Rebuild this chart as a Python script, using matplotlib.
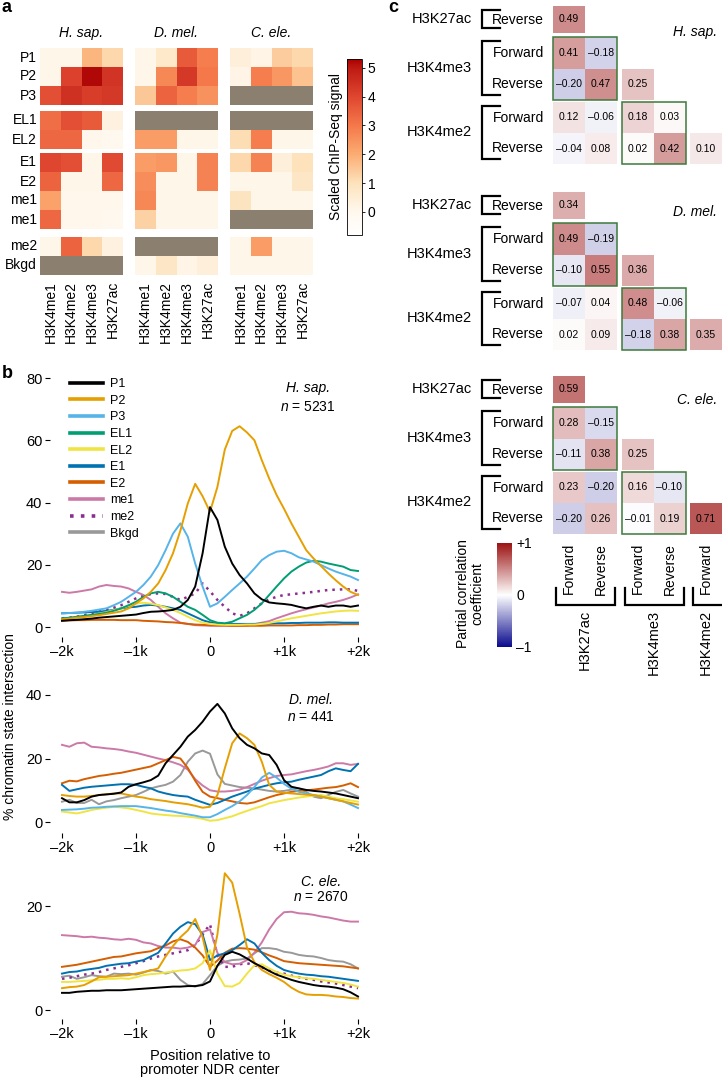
import numpy as np
import matplotlib
matplotlib.use('Agg')
import matplotlib.pyplot as plt
from matplotlib.colors import LinearSegmentedColormap, Normalize
from matplotlib.cm import ScalarMappable
from matplotlib.patches import Rectangle

plt.rcParams['font.family'] = ['Liberation Sans', 'DejaVu Sans']
plt.rcParams['mathtext.fontset'] = 'custom'
plt.rcParams['mathtext.it'] = 'Liberation Sans:italic'
plt.rcParams['mathtext.rm'] = 'Liberation Sans'

W, H = 722, 1080
nan = np.nan

# ---------------- panel a: scaled ChIP-seq signal ----------------
species = ['H. sap.', 'D. mel.', 'C. ele.']
marks = ['H3K4me1', 'H3K4me2', 'H3K4me3', 'H3K27ac']
state_rows = ['P1', 'P2', 'P3', 'EL1', 'EL2', 'E1', 'E2', 'me1', 'me1', 'me2', 'Bkgd']

signal_hsap = [[0.1, 0.1, 1.8, 1.2],
               [0.1, 4.1, 5.2, 4.4],
               [3.8, 4.5, 4.2, 4.3],
               [3.2, 3.8, 3.6, 0.3],
               [3.3, 3.3, 0.05, 0.0],
               [4.0, 3.8, 0.1, 3.9],
               [3.4, 0.1, 0.1, 3.3],
               [2.2, 0.05, 0.05, 0.05],
               [3.3, 0.05, 0.05, 0.0],
               [0.1, 3.4, 1.2, 0.3],
               [nan, nan, nan, nan]]
signal_dmel = [[0.1, 0.7, 3.6, 2.9],
               [0.1, 2.7, 4.3, 3.0],
               [1.5, 3.4, 2.9, 2.5],
               [nan, nan, nan, nan],
               [2.3, 2.3, 0.1, 0.1],
               [2.3, 2.4, 0.1, 2.8],
               [2.6, 0.1, 0.1, 2.8],
               [2.7, 0.1, 0.1, 0.1],
               [1.3, 0.1, 0.1, 0.1],
               [nan, nan, nan, nan],
               [0.1, 0.8, 0.2, 0.4]]
signal_cele = [[0.4, 0.2, 1.4, 1.2],
               [0.2, 2.9, 2.4, 1.6],
               [nan, nan, nan, nan],
               [nan, nan, nan, nan],
               [1.1, 2.9, 0.1, 0.1],
               [1.2, 2.8, 0.4, 1.0],
               [0.1, 0.1, 0.1, 0.8],
               [0.9, 0.1, 0.1, 0.1],
               [nan, nan, nan, nan],
               [0.1, 2.3, 0.1, 0.1],
               [0.1, 0.1, 0.1, 0.1]]

# ---------------- panel b: state profiles around NDR ----------------
pos = list(range(-2000, 2001, 100))
states = ['P1', 'P2', 'P3', 'EL1', 'EL2', 'E1', 'E2', 'me1', 'me2', 'Bkgd']
n_genes = [5231, 441, 2670]

hs_P1 = [2.0, 2.2, 2.3, 2.5, 2.7, 3.0, 3.2, 3.4, 3.6, 3.8,
         4.0, 4.5, 4.9, 5.0, 5.2, 5.5, 6.5, 8.7, 13.0, 23.7,
         38.5, 34.4, 25.8, 20.4, 16.7, 14.0, 10.8, 8.9, 7.9, 7.6,
         7.4, 7.1, 6.5, 6.0, 6.5, 6.9, 6.5, 6.9, 6.9, 6.5, 6.9]
hs_P2 = [2.5, 2.7, 3.0, 3.2, 3.5, 3.8, 4.2, 4.6, 5.0, 6.0,
         7.6, 9.2, 11.3, 14.0, 18.3, 23.7, 31.0, 39.7, 46.0, 42.0,
         37.0, 45.0, 57.0, 63.0, 64.5, 62.5, 60.0, 53.6, 47.7, 42.4,
         38.0, 33.3, 29.0, 24.7, 22.0, 19.6, 17.2, 15.0, 13.0, 11.3, 10.3]
hs_P3 = [4.4, 4.5, 4.6, 4.9, 5.2, 5.6, 6.0, 7.0, 8.1, 9.7,
         11.3, 13.5, 16.2, 19.9, 24.7, 30.0, 33.3, 29.0, 20.4, 13.0,
         6.5, 7.6, 9.7, 11.9, 14.0, 16.2, 18.8, 21.5, 23.1, 24.2,
         24.5, 23.7, 22.4, 21.7, 21.0, 19.9, 18.8, 17.8, 17.0, 16.2, 15.1]
hs_EL1 = [2.8, 3.0, 3.3, 3.6, 3.9, 4.2, 4.6, 5.2, 6.0, 7.0,
          8.1, 9.7, 10.8, 11.3, 10.8, 9.7, 8.1, 6.5, 5.5, 3.9,
          2.2, 1.4, 1.2, 1.7, 2.8, 3.9, 5.5, 7.6, 10.3, 13.0,
          15.6, 17.8, 19.4, 20.7, 21.3, 21.0, 20.4, 19.9, 19.4, 18.3, 18.0]
hs_EL2 = [2.5, 2.7, 3.0, 3.4, 3.8, 4.3, 4.8, 5.4, 6.0, 6.8,
          7.5, 7.8, 7.5, 7.0, 6.3, 5.5, 4.5, 3.3, 2.2, 1.4,
          1.0, 0.8, 0.7, 0.7, 0.7, 0.8, 0.8, 1.0, 1.3, 1.8,
          2.3, 2.8, 3.2, 3.6, 4.0, 4.4, 4.7, 5.0, 5.2, 5.3, 5.2]
hs_E1 = [4.4, 4.5, 4.6, 4.7, 4.8, 4.9, 5.2, 5.5, 6.0, 6.3,
         6.5, 6.9, 7.1, 6.9, 6.5, 6.0, 5.5, 4.4, 3.3, 2.2,
         1.5, 1.2, 1.0, 1.0, 1.0, 1.0, 1.0, 1.1, 1.1, 1.2,
         1.2, 1.3, 1.3, 1.4, 1.4, 1.4, 1.5, 1.5, 1.4, 1.4, 1.4]
hs_E2 = [2.0, 2.1, 2.2, 2.2, 2.3, 2.3, 2.3, 2.3, 2.2, 2.2,
         2.2, 2.0, 1.9, 1.8, 1.6, 1.5, 1.3, 1.0, 0.8, 0.7,
         0.6, 0.5, 0.5, 0.4, 0.4, 0.4, 0.4, 0.4, 0.5, 0.5,
         0.5, 0.5, 0.6, 0.6, 0.7, 0.7, 0.8, 0.8, 0.9, 0.9, 0.9]
hs_me1 = [11.3, 11.0, 11.3, 11.7, 12.1, 13.0, 13.5, 13.2, 13.0, 12.4,
          11.3, 10.3, 8.7, 6.5, 4.4, 2.8, 1.4, 1.0, 0.6, 0.5,
          0.4, 0.4, 0.4, 0.4, 0.4, 0.5, 0.9, 1.4, 1.9, 2.8,
          3.6, 4.4, 5.1, 5.7, 6.3, 6.9, 7.6, 8.1, 8.7, 9.5, 10.5]
hs_me2 = [2.8, 3.0, 3.3, 3.8, 4.4, 5.0, 5.5, 6.2, 7.0, 8.1,
          9.2, 10.0, 10.6, 10.8, 10.6, 9.7, 8.7, 9.7, 10.8, 14.0,
          11.5, 8.7, 6.5, 4.4, 3.6, 4.4, 6.0, 7.6, 8.9, 9.7,
          10.3, 10.5, 10.8, 11.0, 11.3, 11.6, 11.9, 12.0, 12.1, 12.1, 11.6]

dm_P1 = [7.5, 6.2, 6.2, 6.9, 8.0, 8.5, 8.7, 8.9, 9.3, 11.1,
         11.9, 12.5, 13.2, 14.6, 18.5, 21.1, 23.7, 26.9, 29.0, 31.6,
         34.8, 37.2, 34.2, 29.5, 26.4, 24.3, 23.2, 21.6, 21.1, 18.0,
         13.2, 11.1, 10.6, 10.1, 9.8, 9.6, 9.3, 9.0, 8.5, 8.0, 7.5]
dm_P2 = [8.5, 8.2, 8.0, 8.0, 8.2, 8.5, 8.7, 9.0, 9.0, 8.5,
         8.0, 7.7, 7.2, 6.9, 6.6, 6.2, 5.9, 5.6, 5.1, 4.5,
         4.8, 8.5, 16.9, 24.8, 27.9, 26.4, 24.3, 19.0, 11.7, 9.6,
         9.2, 9.0, 8.8, 8.6, 8.5, 8.0, 7.5, 7.0, 6.5, 6.0, 5.5]
dm_P3 = [3.8, 3.9, 4.0, 4.2, 4.5, 4.6, 4.8, 4.9, 5.0, 5.0,
         5.0, 4.7, 4.4, 4.0, 3.6, 3.3, 2.8, 2.4, 2.0, 1.5,
         1.5, 2.5, 3.8, 5.0, 6.5, 8.5, 11.0, 14.0, 15.5, 14.0,
         12.0, 10.5, 9.5, 9.0, 8.5, 8.0, 7.5, 7.0, 6.5, 5.5, 4.4]
dm_EL2 = [3.3, 3.0, 2.7, 3.2, 3.8, 4.2, 4.5, 4.8, 4.6, 4.3,
          3.8, 3.3, 2.7, 2.4, 2.2, 2.0, 1.9, 1.7, 1.4, 1.0,
          0.4, 0.6, 1.2, 1.8, 2.7, 3.5, 4.3, 5.0, 5.9, 6.4,
          6.9, 7.3, 7.7, 8.0, 8.3, 8.5, 8.0, 7.5, 7.2, 6.8, 6.4]
dm_E1 = [11.7, 9.8, 10.3, 10.8, 11.1, 11.3, 11.5, 11.7, 11.9, 11.9,
         11.7, 11.1, 10.6, 9.6, 9.0, 8.5, 8.2, 8.0, 7.0, 6.2,
         5.4, 6.0, 7.0, 8.0, 8.8, 9.6, 10.5, 11.1, 11.7, 12.2,
         12.5, 12.7, 13.3, 13.8, 14.3, 14.8, 16.0, 16.9, 16.4, 16.0, 18.3]
dm_E2 = [12.2, 13.0, 12.8, 13.5, 14.0, 14.5, 14.8, 15.2, 15.5, 16.0,
         16.5, 17.0, 17.5, 18.5, 19.5, 20.5, 20.0, 17.0, 13.0, 9.5,
         8.0, 7.5, 7.0, 6.5, 6.0, 5.8, 6.2, 7.0, 7.8, 8.5,
         9.0, 9.5, 9.8, 10.0, 10.2, 10.5, 10.8, 11.0, 11.5, 12.2, 11.0]
dm_me1 = [24.3, 23.7, 24.8, 25.0, 23.7, 23.5, 23.2, 23.0, 22.7, 22.2,
          21.8, 21.2, 20.6, 20.0, 19.5, 18.8, 18.0, 16.5, 13.5, 11.5,
          10.0, 9.6, 9.6, 9.8, 10.2, 11.0, 12.0, 13.0, 13.8, 14.5,
          14.8, 15.0, 15.5, 16.0, 16.4, 16.9, 17.5, 18.5, 18.5, 18.0, 18.3]
dm_Bkgd = [6.4, 7.0, 6.0, 6.0, 7.0, 5.6, 6.5, 6.9, 7.5, 8.0,
           8.5, 9.5, 10.6, 11.2, 11.7, 12.7, 14.8, 19.0, 21.6, 22.5,
           21.5, 15.0, 12.0, 11.5, 11.0, 10.8, 10.6, 10.2, 9.8, 9.6,
           9.8, 10.2, 10.6, 9.5, 8.0, 7.5, 8.5, 9.5, 10.1, 9.0, 8.0]

ce_P1 = [3.3, 3.3, 3.5, 3.6, 3.7, 3.7, 3.8, 3.8, 3.8, 3.9,
         4.0, 4.1, 4.2, 4.3, 4.4, 4.5, 4.5, 4.6, 4.6, 4.8,
         5.5, 8.5, 10.6, 11.2, 10.7, 9.9, 9.0, 8.3, 7.5, 6.8,
         6.3, 5.8, 5.4, 5.1, 4.8, 4.6, 4.5, 4.3, 4.0, 3.4, 2.6]
ce_P2 = [4.2, 4.4, 4.5, 4.8, 5.5, 6.3, 6.4, 6.5, 6.6, 6.7,
         7.0, 7.3, 7.6, 8.0, 10.3, 12.3, 14.0, 15.3, 17.5, 14.0,
         7.7, 14.5, 26.3, 24.5, 18.5, 12.0, 9.2, 7.7, 6.9, 6.2,
         5.4, 4.3, 3.5, 3.0, 2.9, 2.9, 2.8, 2.6, 2.5, 2.3, 2.2]
ce_EL2 = [5.4, 5.4, 5.5, 5.6, 5.7, 5.8, 6.0, 6.0, 6.1, 6.0,
          6.3, 6.7, 6.9, 7.0, 7.2, 7.4, 7.6, 7.7, 8.0, 9.0,
          11.5, 7.0, 4.6, 4.5, 5.2, 7.0, 8.6, 8.8, 8.0, 7.3,
          6.8, 6.5, 6.3, 6.1, 6.0, 5.8, 5.6, 5.4, 5.2, 4.9, 4.5]
ce_E1 = [7.0, 7.3, 7.4, 7.7, 7.9, 8.1, 8.5, 8.7, 8.9, 9.0,
         9.3, 9.6, 10.3, 11.0, 12.8, 14.7, 16.0, 16.9, 16.5, 14.5,
         9.6, 10.5, 10.9, 11.5, 12.5, 13.6, 12.8, 11.0, 9.6, 8.5,
         7.7, 7.3, 7.0, 6.8, 6.7, 6.5, 6.4, 6.2, 6.0, 5.8, 5.6]
ce_E2 = [8.3, 8.5, 8.7, 9.0, 9.3, 9.6, 9.9, 10.2, 10.3, 10.6,
         10.9, 11.1, 11.3, 11.9, 12.4, 13.2, 13.6, 13.1, 12.0, 10.5,
         8.3, 9.5, 11.0, 11.8, 11.9, 11.8, 11.6, 11.1, 10.5, 10.0,
         9.4, 9.2, 9.0, 8.9, 8.8, 8.7, 8.6, 8.5, 8.4, 8.2, 8.0]
ce_me1 = [14.4, 14.3, 14.2, 14.0, 14.1, 13.9, 13.8, 13.6, 13.5, 13.7,
          13.5, 13.0, 12.8, 12.3, 12.0, 12.0, 11.8, 12.0, 12.5, 15.0,
          15.5, 11.0, 9.2, 8.8, 8.9, 9.6, 11.0, 13.0, 15.5, 17.5,
          18.8, 18.9, 18.6, 18.5, 18.3, 18.0, 17.8, 17.5, 17.2, 17.0, 17.0]
ce_me2 = [6.0, 6.2, 6.5, 6.8, 7.0, 7.3, 7.7, 8.0, 8.3, 8.6,
          9.0, 9.4, 9.9, 10.3, 10.6, 10.9, 11.2, 11.5, 12.5, 14.5,
          16.5, 10.5, 8.3, 8.3, 8.8, 9.0, 8.6, 8.2, 7.7, 7.2,
          7.0, 6.6, 6.3, 6.0, 5.8, 5.5, 5.3, 5.1, 4.8, 4.5, 4.2]
ce_Bkgd = [6.4, 6.6, 6.0, 6.3, 6.7, 6.5, 6.4, 7.0, 6.9, 7.0,
           6.8, 7.2, 7.7, 7.5, 7.0, 7.4, 5.8, 4.8, 4.5, 5.0,
           6.7, 8.5, 9.3, 9.6, 9.7, 9.9, 10.9, 11.9, 11.9, 11.7,
           11.2, 11.0, 10.6, 10.4, 10.3, 10.0, 9.6, 9.4, 9.3, 8.8, 8.0]

# ---------------- panel c: partial correlations ----------------
pcorr_hsap = [[0.49],
              [0.41, -0.18],
              [-0.20, 0.47, 0.25],
              [0.12, -0.06, 0.18, 0.03],
              [-0.04, 0.08, 0.02, 0.42, 0.10]]
pcorr_dmel = [[0.34],
              [0.49, -0.19],
              [-0.10, 0.55, 0.36],
              [-0.07, 0.04, 0.48, -0.06],
              [0.02, 0.09, -0.18, 0.38, 0.35]]
pcorr_cele = [[0.59],
              [0.28, -0.15],
              [-0.11, 0.38, 0.25],
              [0.23, -0.20, 0.16, -0.10],
              [-0.20, 0.26, -0.01, 0.19, 0.71]]
pc_rows = ['Reverse', 'Forward', 'Reverse', 'Forward', 'Reverse']
pc_cols = ['Forward', 'Reverse', 'Forward', 'Reverse', 'Forward']

signal = [signal_hsap, signal_dmel, signal_cele]
profiles = [
    {'P1': hs_P1, 'P2': hs_P2, 'P3': hs_P3, 'EL1': hs_EL1, 'EL2': hs_EL2,
     'E1': hs_E1, 'E2': hs_E2, 'me1': hs_me1, 'me2': hs_me2},
    {'P1': dm_P1, 'P2': dm_P2, 'P3': dm_P3, 'EL2': dm_EL2, 'E1': dm_E1,
     'E2': dm_E2, 'me1': dm_me1, 'Bkgd': dm_Bkgd},
    {'P1': ce_P1, 'P2': ce_P2, 'EL2': ce_EL2, 'E1': ce_E1, 'E2': ce_E2,
     'me1': ce_me1, 'me2': ce_me2, 'Bkgd': ce_Bkgd},
]
pcorr = [pcorr_hsap, pcorr_dmel, pcorr_cele]

state_colors = {'P1': 'black', 'P2': '#E69F00', 'P3': '#56B4E9', 'EL1': '#009E73',
                'EL2': '#F0E442', 'E1': '#0072B2', 'E2': '#D55E00', 'me1': '#CC79A7',
                'me2': '#8B2F8F', 'Bkgd': '#999999'}


def rect(x0, y0, x1, y1):
    return [x0 / W, 1 - y1 / H, (x1 - x0) / W, (y1 - y0) / H]


fig = plt.figure(figsize=(W / 100, H / 100), dpi=100)

# canvas in pixel units for the heatmaps and labels
cv = fig.add_axes([0, 0, 1, 1])
cv.set_xlim(0, W)
cv.set_ylim(H, 0)
cv.axis('off')

# ---- a ----
vmin, vmax = -0.8, 5.3
sig_anchor = [(-0.8, '#ffffff'), (0, '#fff8ee'), (1, '#fde2bb'), (2, '#fbac72'),
              (3, '#f4784a'), (4, '#df4630'), (5, '#be1a12'), (5.3, '#a80000')]
sig_cmap = LinearSegmentedColormap.from_list(
    'sig', [((v - vmin) / (vmax - vmin), c) for v, c in sig_anchor])
sig_cmap.set_bad('#8b7f70')
sig_norm = Normalize(vmin, vmax)

block_x = [40, 135, 230]
cw, rh = 20.75, 19
group_top = [48, 111, 153, 237]
group_rows = [3, 2, 4, 2]
for b in range(3):
    vals = np.array(signal[b], dtype=float)
    xe = block_x[b] + cw * np.arange(5)
    r = 0
    for g, n in enumerate(group_rows):
        ye = group_top[g] + rh * np.arange(n + 1)
        cv.pcolormesh(xe, ye, np.ma.masked_invalid(vals[r:r + n]),
                      cmap=sig_cmap, norm=sig_norm)
        r += n
    for j, m in enumerate(marks):
        cv.text(block_x[b] + cw * (j + 0.5), 281, m, rotation=90,
                ha='center', va='top', fontsize=10)
    cv.text(block_x[b] + 2 * cw, 33, species[b], style='italic',
            ha='center', va='center', fontsize=10)

row_y = []
for g, n in enumerate(group_rows):
    for i in range(n):
        row_y.append(group_top[g] + rh * (i + 0.5))
for lab, y in zip(state_rows, row_y):
    cv.text(37, y, lab, ha='right', va='center', fontsize=10)

cax = fig.add_axes(rect(347, 59, 362, 235))
cb = fig.colorbar(ScalarMappable(norm=sig_norm, cmap=sig_cmap), cax=cax, ticks=range(6))
cb.outline.set_linewidth(0.6)
cax.tick_params(length=2, width=0.6, labelsize=10, pad=2)
cv.text(336, 147, 'Scaled ChIP-Seq signal', rotation=90,
        ha='center', va='center', fontsize=10)

# ---- b ----
b_layout = [(378, 632, (-1.6, 80), [0, 20, 40, 60, 80], 5),
            (695, 827, (-1.57, 40), [0, 20, 40], 6),
            (867, 1015, (-0.96, 27.5), [0, 20], 4)]
axes_b = []
for k, (top, bot, ylim, yt, out) in enumerate(b_layout):
    ax = fig.add_axes(rect(62, top, 358, bot))
    ax.patch.set_visible(False)
    for s in ax.spines.values():
        s.set_visible(False)
    ax.spines['left'].set_position(('outward', 8.6))
    ax.spines['bottom'].set_position(('outward', out * 0.72))
    ax.set_xlim(-2000, 2000)
    ax.set_ylim(*ylim)
    ax.set_yticks(yt)
    ax.set_xticks([-2000, -1000, 0, 1000, 2000])
    ax.set_xticklabels(['\u20132k', '\u20131k', '0', '+1k', '+2k'])
    ax.tick_params(length=3.6, width=0.8, labelsize=10.5, pad=2)
    handles = []
    for i, st in enumerate(states):
        ls = (0, (1.0, 2.0)) if st == 'me2' else '-'
        lw = 1.8 if st == 'me2' else 1.4
        if st in profiles[k]:
            h, = ax.plot(pos, profiles[k][st], color=state_colors[st], lw=lw,
                         ls=ls, zorder=20 - i, clip_on=False)
        else:
            h, = ax.plot([], [], color=state_colors[st], lw=lw, ls=ls)
        handles.append(h)
    axes_b.append(ax)

leg = axes_b[0].legend(handles, states, loc='upper left',
                       bbox_to_anchor=(70 / W, 1 - 378 / H), bbox_transform=fig.transFigure,
                       frameon=False, fontsize=9, handlelength=2.64, handletextpad=0.56,
                       labelspacing=0.37, borderpad=0, borderaxespad=0)
for ln in leg.get_lines():
    ln.set_linewidth(2.6)

sp_pos = [(308, 388, 407), (311, 700, 717), (321, 882, 897)]
for (x, y1, y2), name, n in zip(sp_pos, species, n_genes):
    cv.text(x, y1, name, style='italic', ha='center', va='center', fontsize=10)
    cv.text(x, y2, '$n$ = %d' % n, ha='center', va='center', fontsize=10)

cv.text(10, 727, '% chromatin state intersection', rotation=90,
        ha='center', va='center', fontsize=10)
cv.text(210, 1063, 'Position relative to\npromoter NDR center',
        ha='center', va='center', fontsize=10.5, linespacing=1.05)

# ---- c ----
pc_cmap = LinearSegmentedColormap.from_list('pc', ['#0a0a8e', '#ffffff', '#9c1212'])
pc_cmap.set_bad((0, 0, 0, 0))
pc_norm = Normalize(-1, 1)
col_edges = np.array([553, 585, 617, 622, 653.5, 685.5, 690, 722])
col_slot = [0, 1, 3, 4, 6]
row_off = np.array([0, 27, 31, 62.5, 94, 96, 127, 158])
row_slot = [0, 2, 3, 5, 6]
block_top = [6, 192, 376]
col_c = [(col_edges[s] + col_edges[s + 1]) / 2 for s in col_slot]

for b in range(3):
    ye = block_top[b] + row_off
    grid = np.full((7, 7), np.nan)
    for i, row in enumerate(pcorr[b]):
        for j, v in enumerate(row):
            grid[row_slot[i], col_slot[j]] = v
    cv.pcolormesh(col_edges, ye, np.ma.masked_invalid(grid), cmap=pc_cmap, norm=pc_norm)
    row_c = [(ye[s] + ye[s + 1]) / 2 for s in row_slot]
    for i, row in enumerate(pcorr[b]):
        for j, v in enumerate(row):
            cv.text(col_c[j], row_c[i], ('%.2f' % v).replace('-', '\u2013'),
                    ha='center', va='center', fontsize=7.5)
        cv.text(544, row_c[i], pc_rows[i], ha='right', va='center', fontsize=10)
    cv.add_patch(Rectangle((col_edges[0], ye[2]), col_edges[2] - col_edges[0], ye[4] - ye[2],
                           fill=False, ec='#3c7a3c', lw=1.1))
    cv.add_patch(Rectangle((col_edges[3], ye[5]), col_edges[5] - col_edges[3], ye[7] - ye[5],
                           fill=False, ec='#3c7a3c', lw=1.1))
    for mark, rows in [('H3K27ac', [0]), ('H3K4me3', [1, 2]), ('H3K4me2', [3, 4])]:
        y0 = ye[row_slot[rows[0]]] + 4
        y1 = ye[row_slot[rows[-1]] + 1] - 5
        cv.plot([500, 482, 482, 500], [y0, y0, y1, y1], color='k', lw=1.6,
                solid_joinstyle='miter')
        cv.text(472, (y0 + y1) / 2, mark, ha='right', va='center', fontsize=10.5)
    cv.text(717, [32, 212, 400][b], species[b], style='italic',
            ha='right', va='center', fontsize=10)

for j, nm in enumerate(pc_cols):
    cv.text(col_c[j], 543, nm, rotation=90, ha='center', va='top', fontsize=10)
for mark, cols in [('H3K27ac', [0, 1]), ('H3K4me3', [2, 3]), ('H3K4me2', [4])]:
    x0 = col_edges[col_slot[cols[0]]] + 3
    x1 = col_edges[col_slot[cols[-1]] + 1] - 2 if mark != 'H3K4me2' else 730
    cv.plot([x0, x0, x1, x1], [588, 605, 605, 588], color='k', lw=1.6,
            solid_joinstyle='miter')
    cv.text(np.mean([col_c[c] for c in cols]), 610, mark, rotation=90,
            ha='center', va='top', fontsize=10.5)

cax2 = fig.add_axes(rect(497, 543, 512, 647))
cb2 = fig.colorbar(ScalarMappable(norm=pc_norm, cmap=pc_cmap), cax=cax2, ticks=[-1, 0, 1])
cb2.outline.set_visible(False)
cb2.set_ticklabels(['\u20131', '0', '+1'])
cax2.tick_params(length=0, labelsize=10, pad=3)
cv.text(470, 594, 'Partial correlation\ncoefficient', rotation=90,
        ha='center', va='center', fontsize=10, linespacing=1.05)

# panel letters
for lab, x, y in [('a', 2, 7), ('b', 2, 374), ('c', 388, 7)]:
    cv.text(x, y, lab, fontweight='bold', fontsize=13, ha='left', va='center')

fig.savefig('out.png', dpi=100)
